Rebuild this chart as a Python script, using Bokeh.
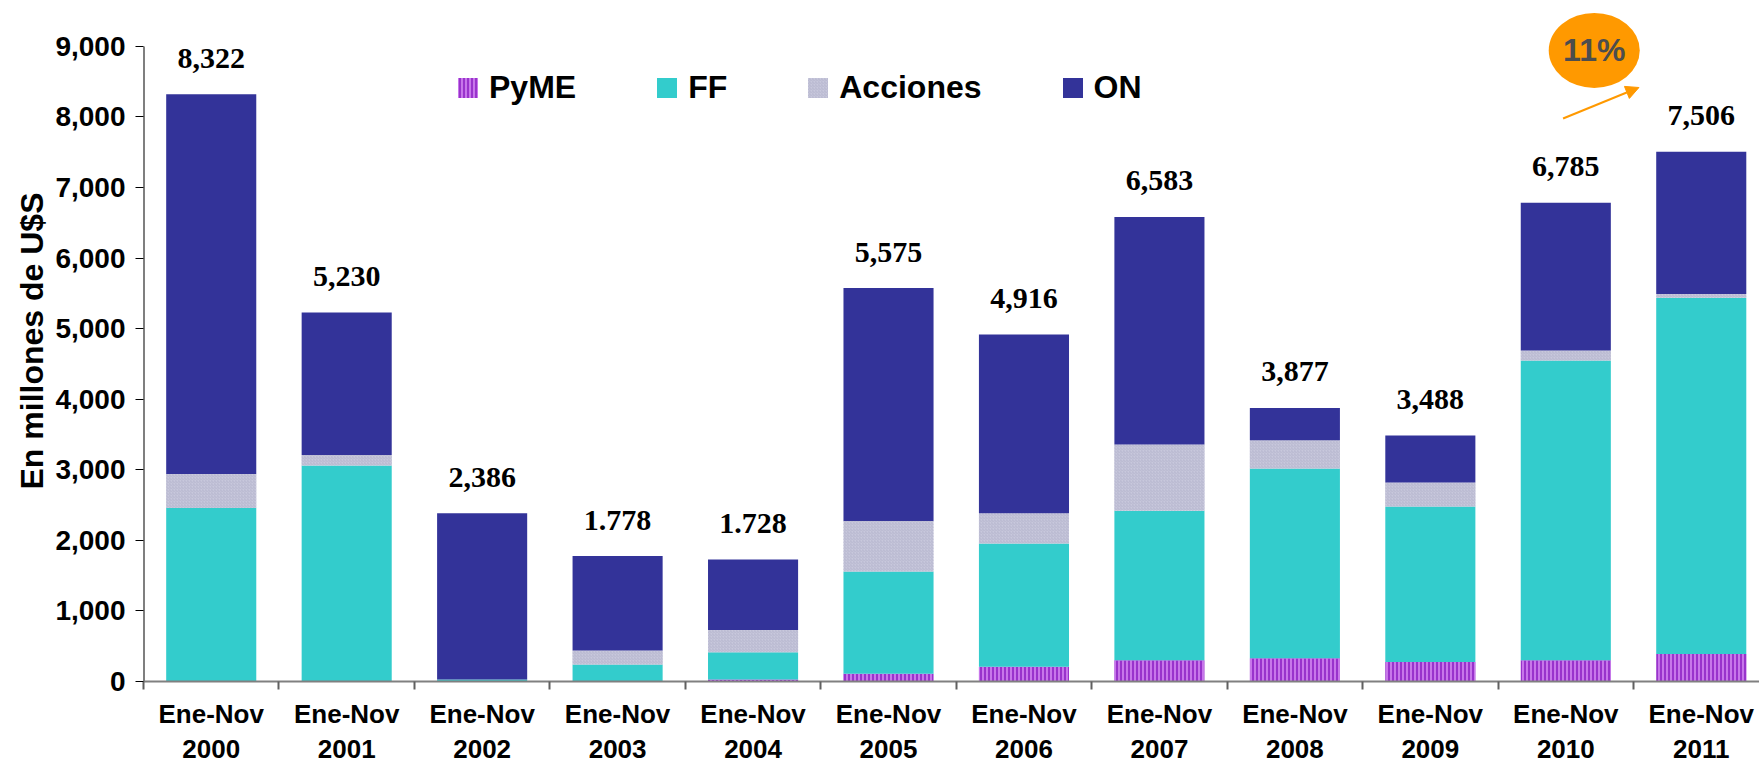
from bokeh.plotting import figure
from bokeh.models import (FixedTicker, NumeralTickFormatter, Range1d, Legend, LegendItem,
                          Arrow, NormalHead, ColumnDataSource)
from bokeh.core.properties import value
from bokeh.embed import file_html
from bokeh.resources import INLINE

# ---------------- data ----------------
years = ["2000", "2001", "2002", "2003", "2004", "2005",
         "2006", "2007", "2008", "2009", "2010", "2011"]
tick_labels = ["Ene-Nov\n" + y for y in years]
series = ["PyME", "FF", "Acciones", "ON"]
pyme = [0, 0, 0, 0, 30, 110, 210, 300, 330, 275, 300, 390]
ff = [2460, 3060, 30, 240, 384, 1450, 1745, 2120, 2690, 2205, 4250, 5050]
acciones = [480, 150, 0, 200, 317, 715, 430, 940, 400, 340, 140, 50]
on = [5382, 2020, 2356, 1338, 997, 3300, 2531, 3223, 457, 668, 2095, 2016]
total_labels = ["8,322", "5,230", "2,386", "1.778", "1.728", "5,575",
                "4,916", "6,583", "3,877", "3,488", "6,785", "7,506"]
y_ticks = [0, 1000, 2000, 3000, 4000, 5000, 6000, 7000, 8000, 9000]
growth_label = "11%"
# annotation (bubble + arrow) anchor, in data units
bubble_x, bubble_y = 10.21, 8943
arrow_start = (9.98, 7979)
arrow_end = (10.54, 8418)

# ---------------- styles ----------------
colors = ["#9933CC", "#33CCCC", "#C8C8DC", "#333399"]
hatches = ["vertical_line", " ", "right_diagonal_line", " "]
hatch_colors = ["#D388F2", "white", "#B8B8D0", "white"]
SANS = "Liberation Sans"
SERIF = "Liberation Serif"

x = list(range(len(years)))
totals = [a + b + c + d for a, b, c, d in zip(pyme, ff, acciones, on)]
src = ColumnDataSource(dict(x=x, PyME=pyme, FF=ff, Acciones=acciones, ON=on,
                            total=totals, label=total_labels))

p = figure(width=1759, height=770, output_backend="svg", toolbar_location=None,
           x_range=Range1d(-0.5, 11.43), y_range=Range1d(0, 9651),
           min_border_left=143, min_border_right=0, min_border_top=0, min_border_bottom=89)
p.outline_line_color = None
p.grid.grid_line_color = None

rends = p.vbar_stack(series, x="x", width=0.665, source=src, fill_color=colors,
                     line_color=None, hatch_pattern=hatches, hatch_color=hatch_colors,
                     hatch_scale=[4, 4, 3, 4], hatch_weight=[1.6, 1, 1, 1])

p.text(x="x", y="total", text="label", source=src, text_font=value(SERIF),
       text_font_style="bold", text_font_size="30px", text_align="center",
       text_baseline="middle", y_offset=-36, text_color="black")

# y axis line only up to 9000
p.segment(x0=[-0.5], y0=[0], x1=[-0.5], y1=[9000], line_color="black", line_width=2)

# growth bubble
p.ellipse(x=[bubble_x], y=[bubble_y], width=91, height=75, width_units="screen",
          height_units="screen", fill_color="#FF9900", line_color=None)
p.text(x=[bubble_x], y=[bubble_y], text=[growth_label], text_font=value(SANS),
       text_font_style="bold", text_font_size="32px", text_color="#4D4D4D",
       text_align="center", text_baseline="middle")
p.add_layout(Arrow(end=NormalHead(size=13, fill_color="#FF9900", line_color="#FF9900"),
                   x_start=arrow_start[0], y_start=arrow_start[1],
                   x_end=arrow_end[0], y_end=arrow_end[1],
                   line_color="#FF9900", line_width=2))

# axes
yax = p.yaxis[0]
yax.ticker = FixedTicker(ticks=y_ticks)
yax.formatter = NumeralTickFormatter(format="0,0")
yax.axis_line_color = None
yax.major_tick_out = 8
yax.major_tick_in = 0
yax.minor_tick_line_color = None
yax.major_tick_line_color = "black"
yax.major_label_standoff = 10
yax.major_label_text_font = SANS
yax.major_label_text_font_style = "bold"
yax.major_label_text_font_size = "28px"
yax.major_label_text_color = "black"
yax.axis_label = "En millones de U$S"
yax.axis_label_text_font = SANS
yax.axis_label_text_font_style = "bold"
yax.axis_label_text_font_size = "32px"
yax.axis_label_text_color = "black"
yax.axis_label_standoff = 2

xax = p.xaxis[0]
xax.ticker = FixedTicker(ticks=x, minor_ticks=[i - 0.5 for i in range(len(years) + 1)])
xax.major_label_overrides = {i: lab for i, lab in zip(x, tick_labels)}
xax.major_tick_line_color = None
xax.major_tick_out = 0
xax.major_tick_in = 0
xax.minor_tick_out = 8
xax.minor_tick_in = 0
xax.minor_tick_line_color = "#606060"
xax.minor_tick_line_width = 2
xax.axis_line_color = "#808080"
xax.axis_line_width = 2
xax.major_label_standoff = 9
xax.major_label_text_font = SANS
xax.major_label_text_font_style = "bold"
xax.major_label_text_font_size = "26px"
xax.major_label_text_color = "black"
xax.major_label_text_line_height = 1.17

legend = Legend(items=[LegendItem(label=s, renderers=[r]) for s, r in zip(series, rends)],
                orientation="horizontal", location=(312, 575),
                glyph_width=25, glyph_height=25, label_standoff=9, spacing=78,
                padding=0, margin=0, border_line_color=None, background_fill_alpha=0,
                label_text_font=SANS, label_text_font_style="bold",
                label_text_font_size="32px", label_text_color="black")
p.add_layout(legend)

open("out.html", "w").write(file_html(p, INLINE))
